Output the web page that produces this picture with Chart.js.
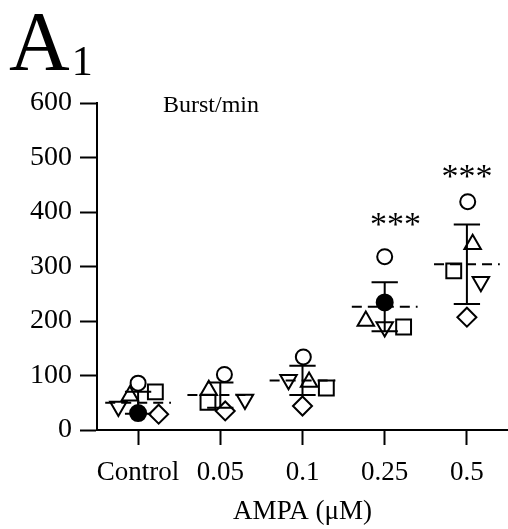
<!DOCTYPE html>
<html>
<head>
<meta charset="utf-8">
<script src="https://cdn.jsdelivr.net/npm/chart.js@4/dist/chart.umd.min.js"></script>
<style>
  html, body { margin: 0; padding: 0; background: #fff; overflow: hidden; }
  #wrap { position: relative; width: 508px; height: 529px; overflow: hidden; }
  #chart { display: block; }
  .lbl { position: absolute; font-family: "Liberation Serif", serif; color: #000; line-height: 1; white-space: nowrap; }
  .sub { font-size: 42px; position: relative; top: 5px; left: 2px; }
</style>
</head>
<body>
<div id="wrap">
  <canvas id="chart"></canvas>
  <div class="lbl" style="left:9px; top:0px; font-size:84px;">A<span class="sub">1</span></div>
  <div class="lbl" style="left:163px; top:92px; font-size:24px;">Burst/min</div>
</div>
<script>
// ========================
// DATA
// ========================
const groups = ["Control", "0.05", "0.1", "0.25", "0.5"];
const yTicks = [0, 100, 200, 300, 400, 500, 600];

// one array per experiment (marker shape), null = not shown
const openCircle = [86, 102, 134, 318, 419];
const filledCircle = [31, null, null, 234, null];
const square = [70, 51, 77, 189, 292];
const triangle = [63, 73, 88, 200, 341];
const invTriangle = [43, 56, 92, 189, 272];
const diamond = [29, 35, 44, null, 207];

// horizontal scatter of each marker, in category units
const openCircleX = [0, 0.05, 0.01, 0, 0.01];
const filledCircleX = [0, 0, 0, 0, 0];
const squareX = [0.21, -0.15, 0.29, 0.23, -0.16];
const triangleX = [-0.1, -0.14, 0.08, -0.23, 0.07];
const invTriangleX = [-0.24, 0.3, -0.17, 0, 0.17];
const diamondX = [0.25, 0.06, 0, 0, 0];

// mean +/- SD
const means = [50, 64, 91, 226, 304];
const sds = [20, 23, 27, 45, 73];

// significance
const stars = ["", "", "", "***", "***"];
const starY = [null, null, null, 383, 471];
const starX = [0, 0, 0, 0.13, 0];

// ========================
// HELPERS
// ========================
const FONT = "Liberation Serif";

function pts(vals, jit) {
  return vals
    .map((v, i) => (v == null ? null : { x: i + jit[i], y: v }))
    .filter(Boolean);
}

function segments(fn) {
  // each group gives [start, end], separated by a gap
  return means.flatMap((m, i) => [...fn(m, i), { x: i + 0.5, y: null }]);
}

function marker(label, data, style, radius, opts = {}) {
  return Object.assign(
    {
      label,
      data,
      pointStyle: style,
      pointRadius: radius,
      pointHoverRadius: radius,
      pointBorderColor: "#000",
      pointBackgroundColor: "rgba(0,0,0,0)",
      pointBorderWidth: 2,
      showLine: false,
    },
    opts
  );
}

function lineSet(label, data, dash) {
  return {
    label,
    data,
    showLine: true,
    spanGaps: false,
    pointRadius: 0,
    borderColor: "#000",
    borderWidth: 2,
    borderDash: dash || [],
  };
}

// ========================
// SIGNIFICANCE STARS
// ========================
const starPlugin = {
  id: "stars",
  afterDatasetsDraw(chart) {
    const { ctx, scales } = chart;
    ctx.save();
    ctx.fillStyle = "#000";
    ctx.font = `34px "${FONT}"`;
    ctx.textAlign = "center";
    ctx.textBaseline = "middle";
    stars.forEach((s, i) => {
      if (!s) return;
      const x = scales.x.getPixelForValue(i + starX[i]);
      const y = scales.y.getPixelForValue(starY[i]);
      ctx.fillText(s, x, y + 5);
    });
    ctx.restore();
  },
};

// ========================
// CHART
// ========================
const datasets = [
  lineSet("mean", segments((m, i) => [{ x: i - 0.4, y: m }, { x: i + 0.4, y: m }]), [10, 6]),
  lineSet("sd", segments((m, i) => [{ x: i, y: m - sds[i] }, { x: i, y: m + sds[i] }])),
  lineSet("capTop", segments((m, i) => [{ x: i - 0.16, y: m + sds[i] }, { x: i + 0.16, y: m + sds[i] }])),
  lineSet("capBottom", segments((m, i) => [{ x: i - 0.16, y: m - sds[i] }, { x: i + 0.16, y: m - sds[i] }])),
  marker("circle", pts(openCircle, openCircleX), "circle", 7.5),
  marker("filled", pts(filledCircle, filledCircleX), "circle", 8, { pointBackgroundColor: "#000" }),
  marker("square", pts(square, squareX), "rect", 10.5),
  marker("triangle", pts(triangle, triangleX), "triangle", 9.5),
  marker("invTriangle", pts(invTriangle, invTriangleX), "triangle", 9.5, { pointRotation: 180 }),
  marker("diamond", pts(diamond, diamondX), "rectRot", 9.5),
];

new Chart(document.getElementById("chart"), {
  type: "scatter",
  data: { datasets },
  plugins: [starPlugin],
  options: {
    responsive: true,
    maintainAspectRatio: false,
    animation: false,
    layout: { autoPadding: false, padding: { top: 103, right: 0, left: 0, bottom: 0 } },
    plugins: { legend: { display: false }, tooltip: { enabled: false } },
    scales: {
      x: {
        type: "linear",
        min: -0.5,
        max: 4.5,
        afterBuildTicks: (s) => { s.ticks = groups.map((g, i) => ({ value: i })); },
        afterFit: (s) => { s.height = 99; s.paddingLeft = 0; s.paddingRight = 0; },
        border: { color: "#000", width: 2 },
        grid: { drawOnChartArea: false, tickLength: 15, tickColor: "#000", tickWidth: 2 },
        ticks: {
          callback: (v) => groups[v],
          color: "#000",
          font: { family: FONT, size: 27 },
          padding: 12,
          maxRotation: 0,
          autoSkip: false,
        },
        title: {
          display: true,
          text: "AMPA (μM)",
          color: "#000",
          font: { family: FONT, size: 27 },
          padding: { top: 0, bottom: 1 },
        },
      },
      y: {
        min: 0,
        max: 600,
        afterBuildTicks: (s) => { s.ticks = yTicks.map((v) => ({ value: v })); },
        afterFit: (s) => { s.width = 97; },
        border: { color: "#000", width: 2 },
        grid: { drawOnChartArea: false, tickLength: 17, tickColor: "#000", tickWidth: 2 },
        ticks: { color: "#000", font: { family: FONT, size: 28 }, padding: 8 },
      },
    },
  },
});
</script>
</body>
</html>
